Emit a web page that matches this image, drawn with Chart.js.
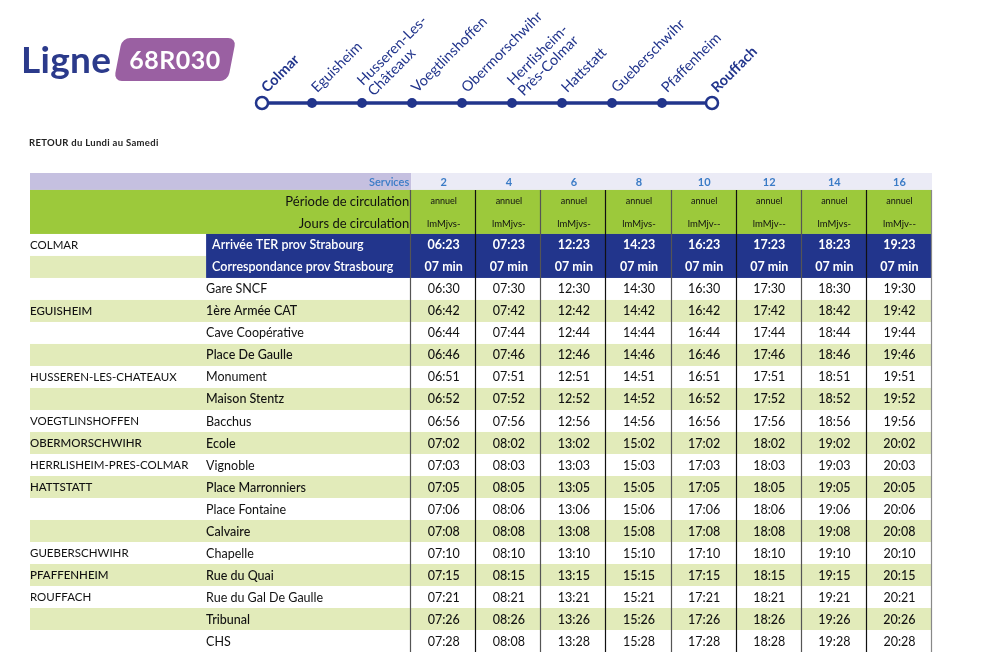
<!DOCTYPE html>
<html lang="fr">
<head>
<meta charset="utf-8">
<title>Ligne 68R030</title>
<script src="https://cdn.jsdelivr.net/npm/chart.js@4"></script>
<style>
  body { margin: 0; width: 1000px; height: 671px; background: #fff; position: relative; overflow: hidden; font-family: Lato, "Open Sans", sans-serif; }
  canvas { position: absolute; left: 0; top: 0; }
  #titre { position: absolute; left: 21px; top: 36px; font: bold 37px Lato, sans-serif; color: #2b3a8b; letter-spacing: 0.3px; }
  #badge { position: absolute; left: 118px; top: 38px; width: 114px; height: 43px; background: #9a60a2; border-radius: 8px; transform: skewX(-11deg); }
  #badge span { display: block; transform: skewX(11deg); color: #fff; font: bold 25px Lato, sans-serif; text-align: center; line-height: 43px; letter-spacing: 0.5px; }
  #retour { position: absolute; left: 29px; top: 137px; font: bold 9.5px Lato, sans-serif; color: #222; letter-spacing: 0.3px; }
</style>
</head>
<body>
<canvas id="tableau" width="1000" height="671"></canvas>
<canvas id="trace" width="1000" height="135"></canvas>
<div id="titre">Ligne</div>
<div id="badge"><span>68R030</span></div>
<div id="retour">RETOUR du Lundi au Samedi</div>
<script>
// Tracé de la ligne (arrêts principaux)
const villesTrace = ["Colmar", "Eguisheim", ["Husseren-Les-", "Châteaux"], "Voegtlinshoffen", "Obermorschwihr",
  ["Herrlisheim-", "Près-Colmar"], "Hattstatt", "Gueberschwihr", "Pfaffenheim", "Rouffach"];

// En-têtes du tableau
const services = ["2", "4", "6", "8", "10", "12", "14", "16"];
const periodes = ["annuel", "annuel", "annuel", "annuel", "annuel", "annuel", "annuel", "annuel"];
const jours = ["lmMjvs-", "lmMjvs-", "lmMjvs-", "lmMjvs-", "lmMjv--", "lmMjv--", "lmMjvs-", "lmMjv--"];
const arriveeTER = ["06:23", "07:23", "12:23", "14:23", "16:23", "17:23", "18:23", "19:23"];
const correspondance = ["07 min", "07 min", "07 min", "07 min", "07 min", "07 min", "07 min", "07 min"];

// Communes et arrêts
const communes = ["", "EGUISHEIM", "", "", "HUSSEREN-LES-CHATEAUX", "", "VOEGTLINSHOFFEN", "OBERMORSCHWIHR",
  "HERRLISHEIM-PRES-COLMAR", "HATTSTATT", "", "", "GUEBERSCHWIHR", "PFAFFENHEIM", "ROUFFACH", "", ""];
const arrets = ["Gare SNCF", "1ère Armée CAT", "Cave Coopérative", "Place De Gaulle", "Monument", "Maison Stentz",
  "Bacchus", "Ecole", "Vignoble", "Place Marronniers", "Place Fontaine", "Calvaire", "Chapelle", "Rue du Quai",
  "Rue du Gal De Gaulle", "Tribunal", "CHS"];

// Horaires par service
const horaires2 = ["06:30", "06:42", "06:44", "06:46", "06:51", "06:52", "06:56", "07:02", "07:03", "07:05", "07:06", "07:08", "07:10", "07:15", "07:21", "07:26", "07:28"];
const horaires4 = ["07:30", "07:42", "07:44", "07:46", "07:51", "07:52", "07:56", "08:02", "08:03", "08:05", "08:06", "08:08", "08:10", "08:15", "08:21", "08:26", "08:08"];
const horaires6 = ["12:30", "12:42", "12:44", "12:46", "12:51", "12:52", "12:56", "13:02", "13:03", "13:05", "13:06", "13:08", "13:10", "13:15", "13:21", "13:26", "13:28"];
const horaires8 = ["14:30", "14:42", "14:44", "14:46", "14:51", "14:52", "14:56", "15:02", "15:03", "15:05", "15:06", "15:08", "15:10", "15:15", "15:21", "15:26", "15:28"];
const horaires10 = ["16:30", "16:42", "16:44", "16:46", "16:51", "16:52", "16:56", "17:02", "17:03", "17:05", "17:06", "17:08", "17:10", "17:15", "17:21", "17:26", "17:28"];
const horaires12 = ["17:30", "17:42", "17:44", "17:46", "17:51", "17:52", "17:56", "18:02", "18:03", "18:05", "18:06", "18:08", "18:10", "18:15", "18:21", "18:26", "18:28"];
const horaires14 = ["18:30", "18:42", "18:44", "18:46", "18:51", "18:52", "18:56", "19:02", "19:03", "19:05", "19:06", "19:08", "19:10", "19:15", "19:21", "19:26", "19:28"];
const horaires16 = ["19:30", "19:42", "19:44", "19:46", "19:51", "19:52", "19:56", "20:02", "20:03", "20:05", "20:06", "20:08", "20:10", "20:15", "20:21", "20:26", "20:28"];
const horaires = [horaires2, horaires4, horaires6, horaires8, horaires10, horaires12, horaires14, horaires16];

const BLEU = "#22358c";
const VERT = "#9cc93b";
const VERT_CLAIR = "#e2ebba";
const POLICE = "Lato, 'Open Sans', sans-serif";

// ---------- Tracé de la ligne ----------
const pointsTrace = villesTrace.map((v, i) => ({ x: i, y: 0 }));
const terminus = villesTrace.map((v, i) => i === 0 || i === villesTrace.length - 1);

const etiquettesTrace = {
  id: "etiquettesTrace",
  afterDatasetsDraw(chart) {
    const ctx = chart.ctx;
    const x = chart.scales.x, y = chart.scales.y;
    ctx.save();
    ctx.fillStyle = BLEU;
    villesTrace.forEach((nom, i) => {
      const px = x.getPixelForValue(i);
      const py = y.getPixelForValue(0);
      ctx.save();
      ctx.translate(px + 2, py - 13);
      ctx.rotate(-Math.PI / 4);
      ctx.font = (terminus[i] ? "bold " : "") + "14.5px " + POLICE;
      ctx.textAlign = "left";
      ctx.textBaseline = "middle";
      if (Array.isArray(nom)) {
        ctx.fillText(nom[0], 2, -8);
        ctx.fillText(nom[1], 2, 7);
      } else {
        ctx.fillText(nom, 0, 0);
      }
      ctx.restore();
    });
    ctx.restore();
  }
};

new Chart(document.getElementById("trace"), {
  type: "line",
  data: {
    datasets: [{
      data: pointsTrace,
      borderColor: BLEU,
      borderWidth: 3.5,
      pointRadius: terminus.map(t => t ? 6 : 5),
      pointBackgroundColor: terminus.map(t => t ? "#fff" : BLEU),
      pointBorderColor: BLEU,
      pointBorderWidth: terminus.map(t => t ? 2.5 : 0),
      clip: false
    }]
  },
  options: {
    responsive: false,
    animation: false,
    events: [],
    layout: { padding: { left: 262, right: 288, top: 93, bottom: 22 } },
    scales: {
      x: { type: "linear", min: 0, max: 9, display: false },
      y: { type: "linear", min: -1, max: 1, display: false }
    },
    plugins: { legend: { display: false }, tooltip: { enabled: false } }
  },
  plugins: [etiquettesTrace]
});

// ---------- Tableau des horaires ----------
// x : une unité = une colonne de service ; y : une unité = une ligne
const COL_VILLE = -5.855;
const COL_ARRET = -3.15;
const HAUT_SERVICES = -0.77;

const dessinTableau = {
  id: "dessinTableau",
  afterDraw(chart) {
    const ctx = chart.ctx;
    const sx = chart.scales.x, sy = chart.scales.y;
    const X = v => sx.getPixelForValue(v);
    const Y = v => sy.getPixelForValue(v);
    const nb = services.length;
    const rect = (x0, y0, x1, y1, c) => {
      ctx.fillStyle = c;
      ctx.fillRect(X(x0), Y(y0), X(x1) - X(x0), Y(y1) - Y(y0));
    };
    const texte = (t, x, yRow, font, color, align) => {
      ctx.font = font;
      ctx.fillStyle = color;
      ctx.textAlign = align;
      ctx.textBaseline = "middle";
      ctx.fillText(t, x, Y(yRow + 0.5) + 0.5);
    };
    ctx.save();

    // ligne Services
    rect(COL_VILLE, HAUT_SERVICES, 0, 0, "#c5c0e0");
    rect(0, HAUT_SERVICES, nb, 0, "#ebebf6");
    ctx.font = "600 11px " + POLICE;
    ctx.fillStyle = "#3a7bc6";
    ctx.textAlign = "right";
    ctx.textBaseline = "middle";
    ctx.fillText("Services", X(0) - 2, Y(HAUT_SERVICES / 2) + 1);
    ctx.textAlign = "center";
    ctx.font = "bold 11px " + POLICE;
    services.forEach((s, i) => ctx.fillText(s, X(i + 0.5), Y(HAUT_SERVICES / 2) + 1));

    // Période / Jours
    rect(COL_VILLE, 0, nb, 2, VERT);
    texte("Période de circulation", X(0) - 2, 0, "13px " + POLICE, "#111", "right");
    texte("Jours de circulation", X(0) - 2, 1, "13px " + POLICE, "#111", "right");
    periodes.forEach((p, i) => texte(p, X(i + 0.5), 0, "9px " + POLICE, "#111", "center"));
    jours.forEach((j, i) => texte(j, X(i + 0.5), 1, "9.5px " + POLICE, "#111", "center"));

    // Correspondance TER
    rect(COL_VILLE, 3, COL_ARRET, 4, VERT_CLAIR);
    rect(COL_ARRET, 2, nb, 4, BLEU);
    texte("COLMAR", X(COL_VILLE), 2, "11.5px " + POLICE, "#111", "left");
    texte("Arrivée TER prov Strabourg", X(COL_ARRET) + 6, 2, "600 12.5px " + POLICE, "#fff", "left");
    texte("Correspondance prov Strasbourg", X(COL_ARRET) + 6, 3, "600 12.5px " + POLICE, "#fff", "left");
    arriveeTER.forEach((h, i) => texte(h, X(i + 0.5), 2, "bold 12.5px " + POLICE, "#fff", "center"));
    correspondance.forEach((h, i) => texte(h, X(i + 0.5), 3, "bold 12.5px " + POLICE, "#fff", "center"));

    // Arrêts
    arrets.forEach((a, r) => {
      const row = 4 + r;
      if (r % 2 === 1) rect(COL_VILLE, row, nb, row + 1, VERT_CLAIR);
      const gras = r % 2 === 1 ? "500 " : "";
      if (communes[r]) texte(communes[r], X(COL_VILLE), row, gras + "11.5px " + POLICE, "#111", "left");
      texte(a, X(COL_ARRET), row, gras + "12.5px " + POLICE, "#111", "left");
      horaires.forEach((col, i) => texte(col[r], X(i + 0.5), row, gras + "12.5px " + POLICE, "#111", "center"));
    });

    // traits verticaux
    ctx.lineWidth = 1.2;
    for (let i = 0; i <= nb; i++) {
      ctx.strokeStyle = i === nb ? "#888" : (i % 2 ? "#111" : "#555");
      ctx.beginPath();
      ctx.moveTo(Math.round(X(i)) - 0.5, Y(0));
      ctx.lineTo(Math.round(X(i)) - 0.5, Y(4 + arrets.length));
      ctx.stroke();
    }
    ctx.restore();
  }
};

new Chart(document.getElementById("tableau"), {
  type: "scatter",
  data: { datasets: [{ data: [], pointRadius: 0 }] },
  options: {
    responsive: false,
    animation: false,
    events: [],
    layout: { padding: { left: 30, right: 68, top: 173, bottom: 19 } },
    scales: {
      x: { type: "linear", min: COL_VILLE, max: services.length, display: false },
      y: { type: "linear", min: HAUT_SERVICES, max: 4 + arrets.length, reverse: true, display: false }
    },
    plugins: { legend: { display: false }, tooltip: { enabled: false } }
  },
  plugins: [dessinTableau]
});
</script>
</body>
</html>
